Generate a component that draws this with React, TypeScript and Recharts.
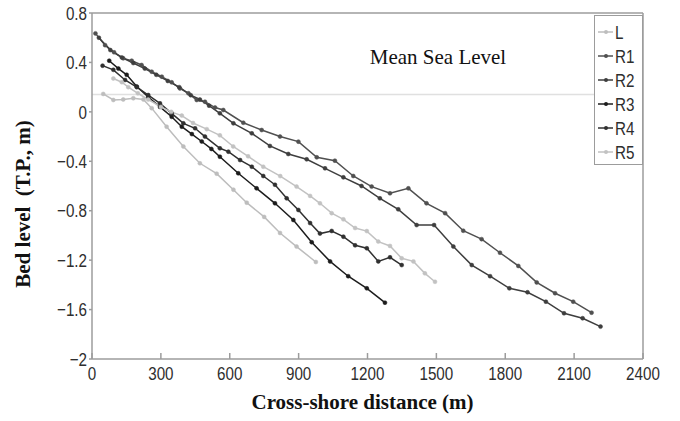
import React from 'react';
import { LineChart, Line, XAxis, YAxis, ReferenceLine, ReferenceDot, Legend } from 'recharts';

// ---- tick labels / constants ----
const X_TICKS = [0, 300, 600, 900, 1200, 1500, 1800, 2100, 2400];
const Y_TICKS = [-2, -1.6, -1.2, -0.8, -0.4, 0, 0.4, 0.8];
const MEAN_SEA_LEVEL = 0.14;
const SERIES_NAMES = ['L', 'R1', 'R2', 'R3', 'R4', 'R5'];
const SERIES_COLORS = ['#bdbdbd', '#505050', '#3e3e3e', '#1c1c1c', '#303030', '#c2c2c2'];

// ---- profiles: [cross-shore distance (m), bed level (T.P., m)] ----
const profileL: [number, number][] = [
  [49, 0.145], [93, 0.096], [136, 0.1], [180, 0.11], [224, 0.1], [260, 0.03], [325, -0.12],
  [398, -0.28], [470, -0.416], [543, -0.5], [616, -0.63], [674, -0.735], [750, -0.85],
  [819, -0.98], [891, -1.09], [975, -1.215],
];
const profileR1: [number, number][] = [
  [15, 0.635], [57, 0.54], [96, 0.482], [136, 0.433], [173, 0.414], [216, 0.379], [260, 0.325],
  [304, 0.285], [347, 0.239], [383, 0.19], [420, 0.15], [456, 0.096], [492, 0.082], [536, 0.035],
  [572, 0.015], [659, -0.088], [739, -0.147], [819, -0.2], [899, -0.241], [979, -0.368],
  [1058, -0.395], [1138, -0.519], [1218, -0.605], [1298, -0.659], [1378, -0.619], [1457, -0.74],
  [1538, -0.82], [1617, -0.962], [1697, -1.03], [1777, -1.14], [1857, -1.247], [1937, -1.38],
  [2017, -1.468], [2096, -1.536], [2176, -1.625],
];
const profileR2: [number, number][] = [
  [30, 0.6], [80, 0.5], [130, 0.44], [180, 0.395], [230, 0.35], [280, 0.3], [330, 0.25],
  [380, 0.2], [430, 0.135], [470, 0.1], [510, 0.05], [557, -0.012], [616, -0.093], [696, -0.174],
  [775, -0.276], [855, -0.341], [935, -0.384], [1015, -0.457], [1095, -0.53], [1174, -0.6],
  [1254, -0.7], [1334, -0.789], [1414, -0.916], [1490, -0.916], [1574, -1.09], [1654, -1.24],
  [1734, -1.33], [1818, -1.428], [1897, -1.46], [1977, -1.536], [2056, -1.63], [2137, -1.67],
  [2215, -1.738],
];
const profileR3: [number, number][] = [
  [75, 0.414], [115, 0.35], [151, 0.3], [195, 0.205], [245, 0.12], [296, 0.04], [347, -0.04],
  [391, -0.12], [435, -0.18], [478, -0.24], [520, -0.3], [557, -0.363], [637, -0.497],
  [717, -0.619], [797, -0.74], [877, -0.875], [957, -1.055], [1037, -1.21], [1116, -1.33],
  [1197, -1.428], [1276, -1.544],
];
const profileR4: [number, number][] = [
  [46, 0.374], [93, 0.34], [144, 0.258], [195, 0.2], [245, 0.136], [296, 0.069], [347, -0.012],
  [398, -0.093], [449, -0.133], [492, -0.2], [557, -0.295], [594, -0.322], [645, -0.39],
  [696, -0.444], [746, -0.519], [797, -0.59], [848, -0.7], [899, -0.794], [950, -0.9],
  [993, -0.985], [1044, -0.964], [1095, -1.01], [1146, -1.08], [1197, -1.104], [1247, -1.21],
  [1298, -1.177], [1349, -1.24],
];
const profileR5: [number, number][] = [
  [93, 0.27], [130, 0.24], [158, 0.2], [200, 0.15], [245, 0.1], [300, 0.04], [345, 0.0],
  [391, -0.03], [440, -0.09], [500, -0.14], [557, -0.19], [615, -0.28], [680, -0.36],
  [746, -0.444], [820, -0.52], [891, -0.605], [950, -0.68], [993, -0.74], [1044, -0.82],
  [1095, -0.87], [1146, -0.94], [1197, -0.965], [1247, -1.05], [1298, -1.085], [1349, -1.185],
  [1400, -1.21], [1450, -1.307], [1494, -1.375],
];

const PROFILES = [profileL, profileR1, profileR2, profileR3, profileR4, profileR5];
const toRows = (p: [number, number][]) => p.map(([x, y]) => ({ x, y }));

const AXIS_COLOR = '#9c9c9c';
const TICK_FONT = 'Liberation Sans, Arial, sans-serif';
const SERIF = 'Liberation Serif, Times New Roman, serif';

const fmtY = (v: number) => (v < 0 ? '\u2212' + String(Math.abs(v)) : String(v));

const XTick = (props: any) => {
  const { x, y, payload } = props;
  return (
    <text transform={`translate(${x},${y}) scale(0.8,1)`} textAnchor="middle" dy="0.71em"
      fontSize={19} fill="#2e2e2e" fontFamily={TICK_FONT}>
      {payload.value}
    </text>
  );
};

const YTick = (props: any) => {
  const { x, y, payload } = props;
  return (
    <text transform={`translate(${x},${y}) scale(0.8,1)`} textAnchor="end" dy="0.355em"
      fontSize={19} fill="#2e2e2e" fontFamily={TICK_FONT}>
      {fmtY(payload.value)}
    </text>
  );
};

const LegendBox = () => (
  <div style={{ width: 49, height: 150, border: `1px solid ${AXIS_COLOR}`, background: '#fff', boxSizing: 'border-box' }}>
    <svg width={47} height={148} style={{ display: 'block' }}>
      {SERIES_NAMES.map((n, i) => {
        const cy = 16 + i * 24;
        return (
          <g key={n}>
            <line x1={3} x2={18} y1={cy} y2={cy} stroke={SERIES_COLORS[i]} strokeWidth={1.5} />
            <circle cx={11} cy={cy} r={2} fill={SERIES_COLORS[i]} />
            <text transform={`translate(20,${cy}) scale(0.8,1)`} dy="0.355em" fontSize={19}
              fill="#2e2e2e" fontFamily={TICK_FONT}>{n}</text>
          </g>
        );
      })}
    </svg>
  </div>
);

const YTitle = (p: any) => {
  const vb = p.viewBox || { x: 0, y: 13, width: 92, height: 346 };
  const cx = vb.x + 23;
  const cy = vb.y + vb.height / 2 + 18;
  return (
    <text x={cx} y={cy} transform={`rotate(-90, ${cx}, ${cy})`} textAnchor="middle" dominantBaseline="central"
      fontSize={21} fontWeight="bold" fontFamily={SERIF} fill="#111">
      {'Bed level\u00a0\u00a0(T.P., m)'}
    </text>
  );
};

const XTitle = (p: any) => {
  const vb = p.viewBox || { x: 92, y: 359, width: 551, height: 62 };
  return (
    <text x={vb.x + vb.width / 2 - 5} y={vb.y + 50} textAnchor="middle"
      fontSize={21} fontWeight="bold" fontFamily={SERIF} fill="#111">
      Cross-shore distance (m)
    </text>
  );
};

export default function App() {
  return (
    <div style={{ position: 'absolute', left: 0, top: 0, background: '#fff' }}>
      <LineChart width={680} height={421} margin={{ top: 12, right: 36, bottom: 0, left: 0 }}>
        <XAxis type="number" dataKey="x" domain={[0, 2400]} ticks={X_TICKS} interval={0}
          allowDuplicatedCategory={false} height={62} tickSize={-6} tickMargin={14}
          stroke={AXIS_COLOR} strokeWidth={1.5} tick={<XTick />} label={{ content: XTitle } as any} />
        <XAxis xAxisId="top" orientation="top" type="number" dataKey="x" domain={[0, 2400]} ticks={X_TICKS}
          interval={0} height={1} tickSize={-6} tick={false} stroke={AXIS_COLOR} strokeWidth={1.5} />
        <YAxis type="number" domain={[-2, 0.8]} ticks={Y_TICKS} interval={0} width={92}
          tickSize={3} tickMargin={2} stroke={AXIS_COLOR} strokeWidth={1.5} tick={<YTick />}
          label={{ content: YTitle } as any} />
        <YAxis yAxisId="right" orientation="right" type="number" domain={[-2, 0.8]} ticks={Y_TICKS}
          interval={0} width={1} tickSize={-6} tick={false} stroke={AXIS_COLOR} strokeWidth={1.5} />
        <ReferenceLine y={MEAN_SEA_LEVEL} stroke="#e0e0e0" strokeWidth={1.5} />
        <ReferenceDot x={1507} y={0.444} r={0} fill="none" stroke="none"
          label={{ value: 'Mean Sea Level', position: 'center', fontSize: 21, fontFamily: SERIF, fill: '#111' }} />
        {PROFILES.map((p, i) => (
          <Line key={SERIES_NAMES[i]} name={SERIES_NAMES[i]} data={toRows(p)} dataKey="y" type="linear"
            stroke={SERIES_COLORS[i]} strokeWidth={1.5}
            dot={{ r: 2, fill: SERIES_COLORS[i], stroke: SERIES_COLORS[i], strokeWidth: 0.5 }}
            isAnimationActive={false} />
        ))}
        <Legend layout="vertical" align="center" verticalAlign="middle" content={<LegendBox />}
          wrapperStyle={{ left: 594, top: 15, width: 49, height: 150 }} />
      </LineChart>
    </div>
  );
}
